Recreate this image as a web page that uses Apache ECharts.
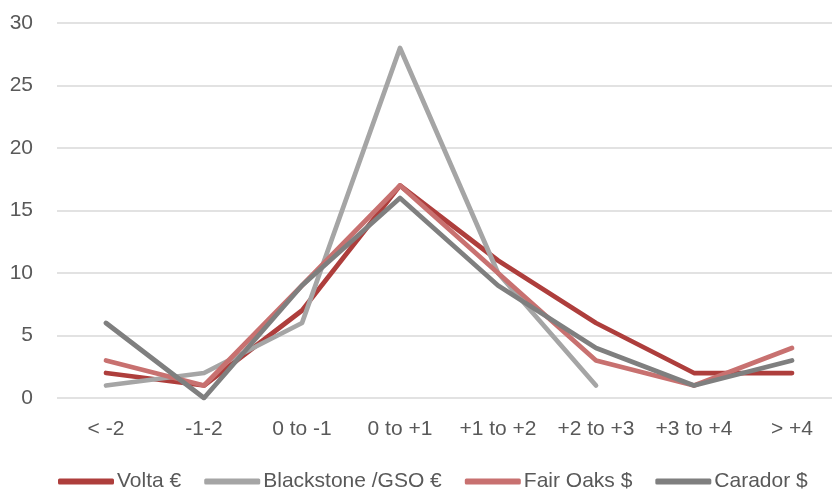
<!DOCTYPE html>
<html>
<head>
<meta charset="utf-8">
<script src="https://cdn.jsdelivr.net/npm/echarts@6/dist/echarts.min.js"></script>
<style>
  html, body { margin: 0; padding: 0; background: #fff; }
  #chart { width: 832px; height: 491px; }
</style>
</head>
<body>
<div id="chart"></div>
<script>
// Distribution buckets on the x axis
const categories = ['< -2', '-1-2', '0 to -1', '0 to +1', '+1 to +2', '+2 to +3', '+3 to +4', '> +4'];

// Counts per bucket for each fund
const volta = [2, 1, 7, 17, 11, 6, 2, 2];
const blackstone = [1, 2, 6, 28, 10, 1, null, null];
const fairOaks = [3, 1, 9, 17, 10, 3, 1, 4];
const carador = [6, 0, 9, 16, 9, 4, 1, 3];

const seriesNames = ['Volta €', 'Blackstone /GSO €', 'Fair Oaks $', 'Carador $'];
const seriesData = [volta, blackstone, fairOaks, carador];
const seriesColors = ['#ae3e3c', '#a5a5a5', '#c87170', '#7f7f7f'];

// Y axis ticks
const yMin = 0, yMax = 30, yStep = 5;

const font = '"Liberation Sans", Arial, sans-serif';
const textColor = '#595959';

const chart = echarts.init(document.getElementById('chart'), null, { renderer: 'canvas' });

chart.setOption({
  animation: false,
  backgroundColor: '#ffffff',
  grid: { left: 57, width: 784, top: 23, bottom: 93, containLabel: false, outerBoundsMode: 'none' },
  legend: {
    bottom: -1,
    left: 58,
    padding: 0,
    itemWidth: 56,
    itemHeight: 6,
    itemGap: 23,
    icon: 'roundRect',
    textStyle: { color: textColor, fontSize: 21, fontFamily: font, padding: [0, 0, 0, -2] },
    data: seriesNames
  },
  xAxis: {
    type: 'category',
    data: categories,
    boundaryGap: true,
    axisLine: { show: false },
    axisTick: { show: false },
    axisLabel: { color: textColor, fontSize: 21, fontFamily: font, margin: 21, interval: 0, hideOverlap: false }
  },
  yAxis: {
    type: 'value',
    min: yMin,
    max: yMax,
    interval: yStep,
    axisLine: { show: false },
    axisTick: { show: false },
    axisLabel: { color: textColor, fontSize: 21, fontFamily: font, margin: 24 },
    splitLine: { lineStyle: { color: '#d9d9d9', width: 1.5 } }
  },
  series: seriesNames.map((name, i) => ({
    name: name,
    type: 'line',
    data: seriesData[i],
    symbol: 'none',
    connectNulls: false,
    itemStyle: { color: seriesColors[i] },
    lineStyle: { color: seriesColors[i], width: 4.75, cap: 'round', join: 'round' }
  }))
});
</script>
</body>
</html>
